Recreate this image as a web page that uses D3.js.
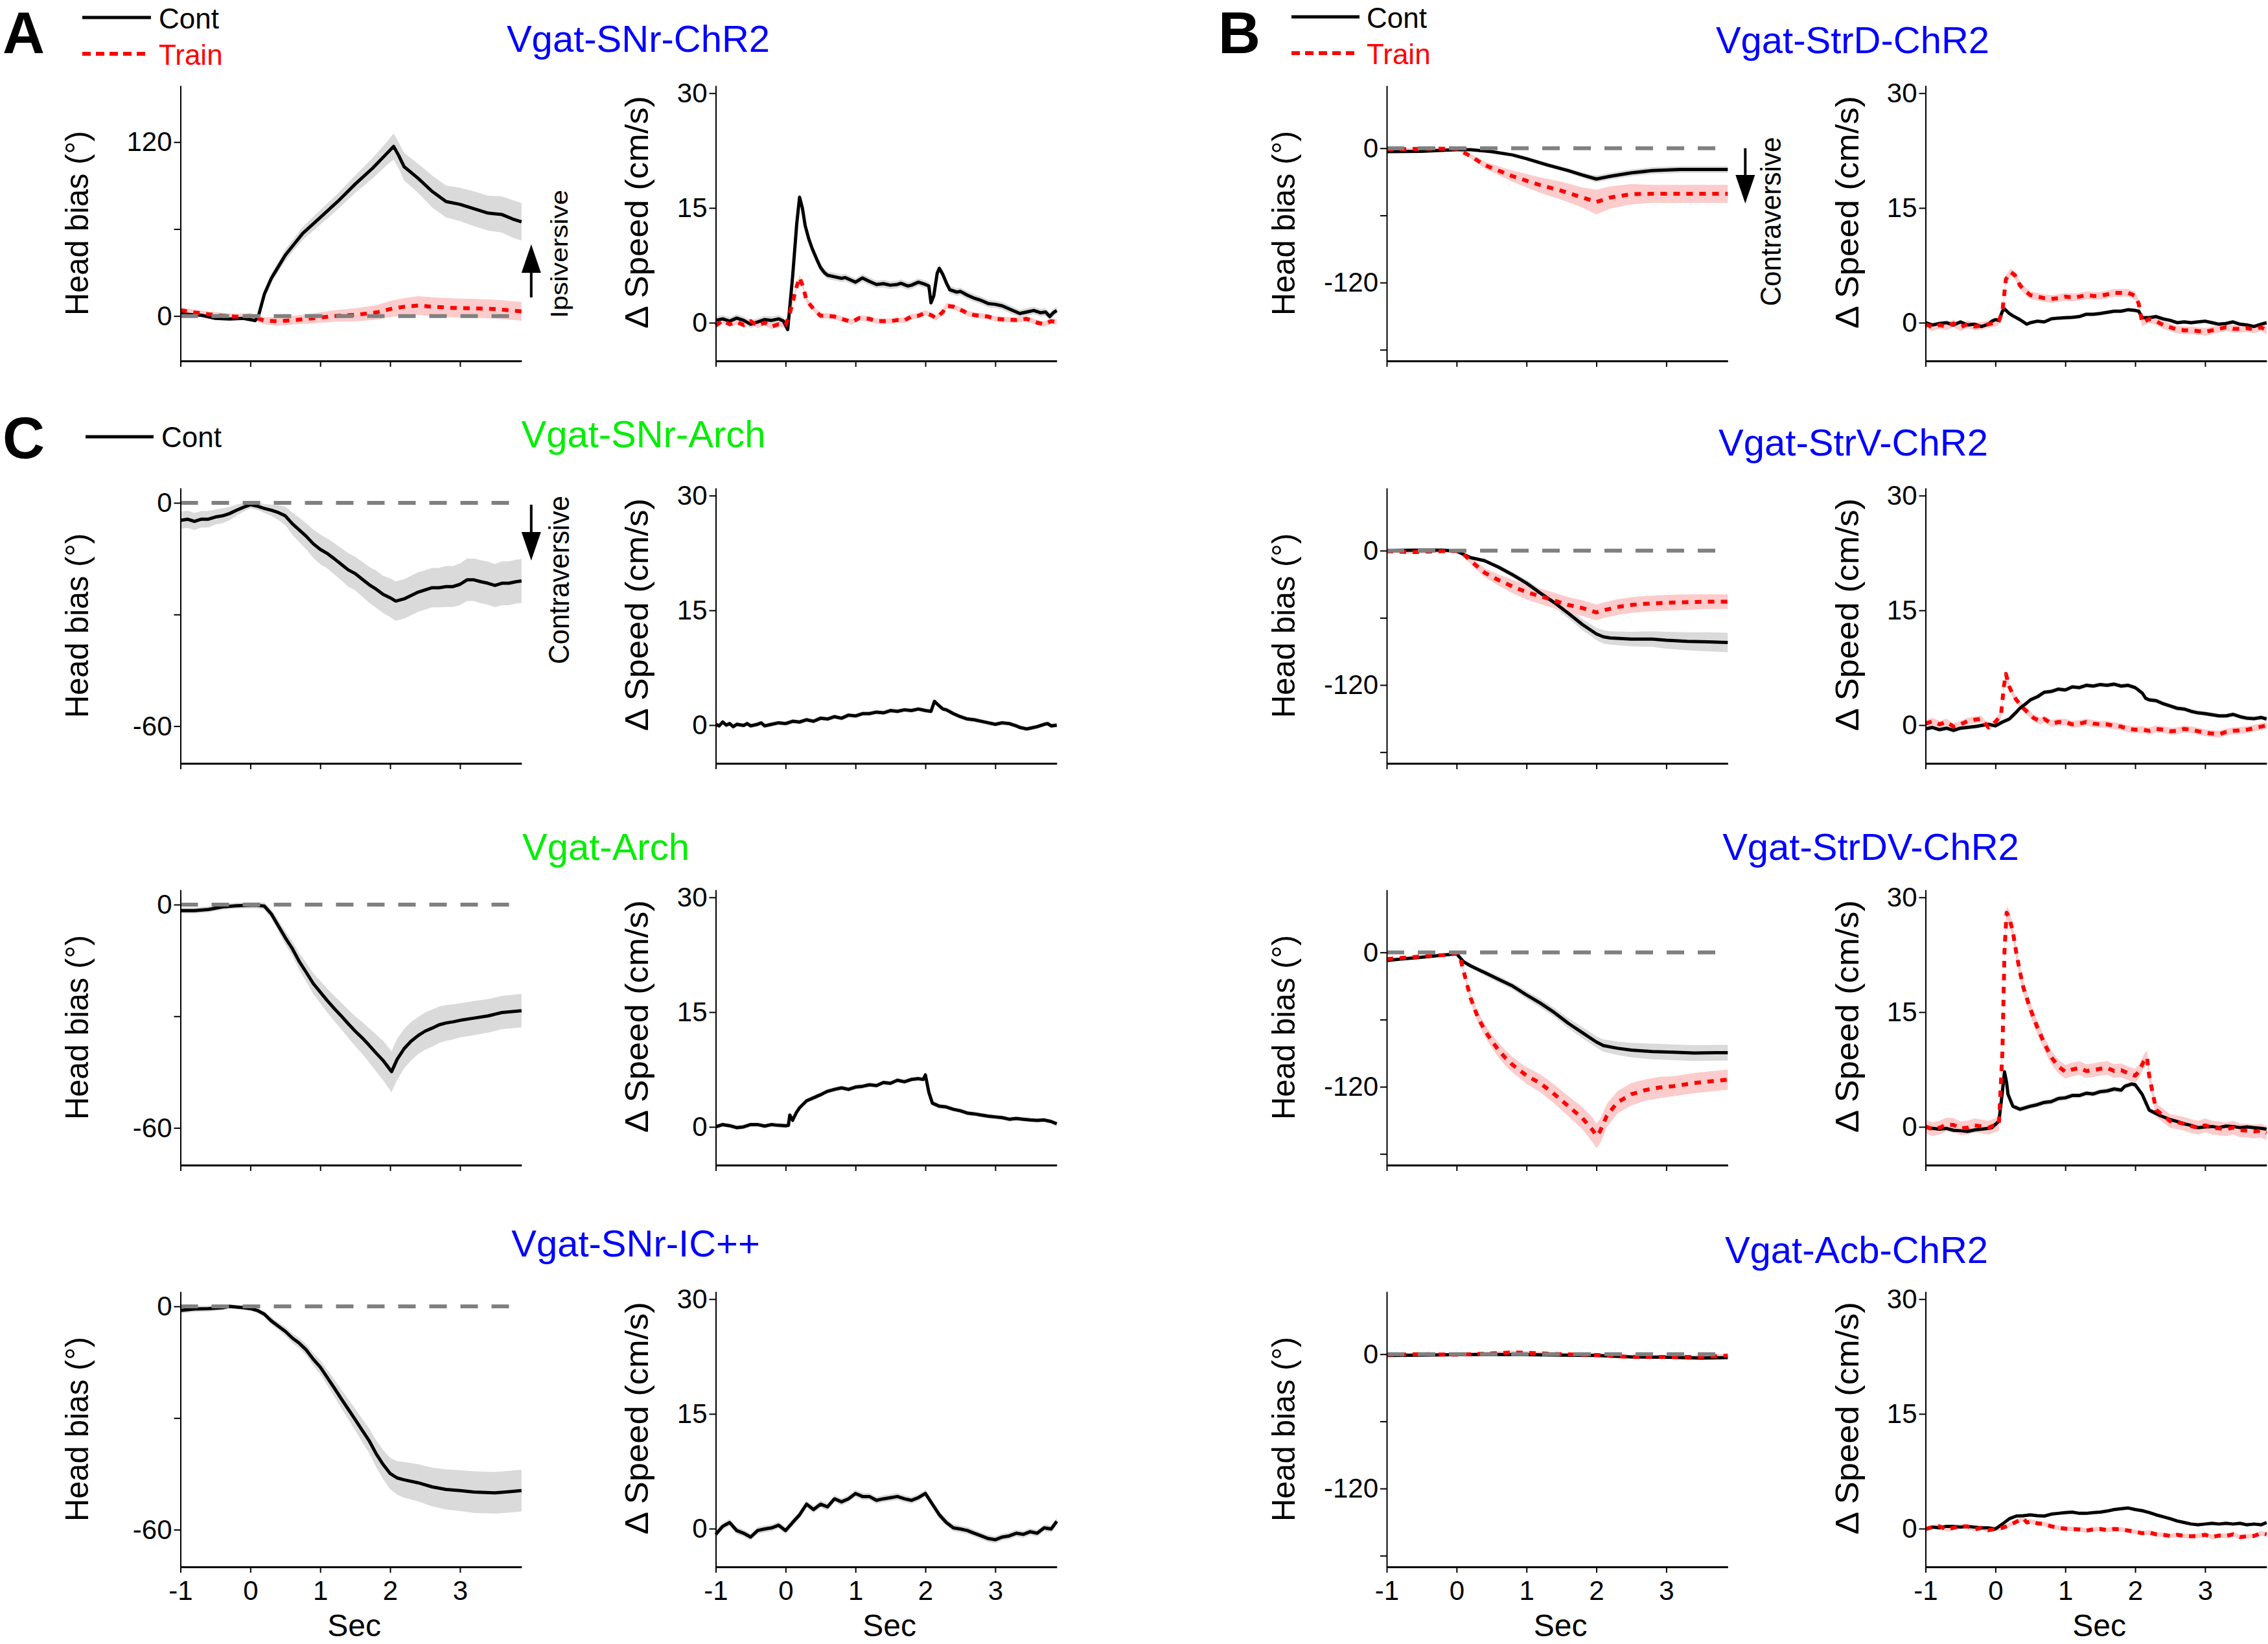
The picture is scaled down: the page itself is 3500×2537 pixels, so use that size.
<!DOCTYPE html>
<html><head><meta charset="utf-8">
<script src="https://cdn.jsdelivr.net/npm/d3@7"></script>
<style>
html,body{margin:0;padding:0;background:#fff}
svg{display:block}
text{font-family:"Liberation Sans",Arial,Helvetica,sans-serif}
</style></head>
<body><svg id="chart" width="3500" height="2537"></svg>
<script>
// ---------------- DATA (time s, mean, sem) ----------------
// Panel A: Vgat-SNr-ChR2
const snrChR2_head_cont = [[-1,1.6,1],[-0.85,1,1],[-0.7,0.5,1],[-0.5,-1.6,1.2],[-0.3,-2,1.2],[-0.1,-1.6,1.2],[0,-2.5,1.2],[0.07,-3.2,1.2],[0.12,0.8,1.5],[0.2,15,2.5],[0.3,26,3],[0.4,34,3.5],[0.5,42,4],[0.6,48,4],[0.75,57,4.5],[1,68,5],[1.25,79,5.5],[1.5,91,6],[1.75,102,7],[1.95,112,8],[2.05,117,9],[2.12,111,9],[2.2,103,9.5],[2.4,95,10],[2.6,86,11],[2.8,79,11],[3,77,11.5],[3.2,74,12],[3.4,71,12],[3.6,70,12.5],[3.75,67,13],[3.88,65,13]];
const snrChR2_head_train = [[-1,4,2],[-0.8,2.4,2],[-0.6,1.2,2],[-0.4,0.2,2],[-0.2,-0.5,2],[0,0,2],[0.2,-3.2,2.5],[0.4,-3.7,3],[0.6,-2.9,3],[0.9,-1.6,3.5],[1.2,0,4],[1.5,0.8,4.5],[1.8,2.4,5],[2,4.8,5.5],[2.2,6.4,6],[2.4,7.2,6.5],[2.6,6.4,6.5],[2.9,5.6,6.5],[3.2,5.3,6.5],[3.5,4.8,6.5],[3.88,3.2,6.5]];
const snrChR2_speed_cont = [[-1,0.3],[-0.9,0.5],[-0.8,0.2],[-0.7,0.6],[-0.6,0.3],[-0.5,-0.2],[-0.4,0.1],[-0.3,0.4],[-0.2,0.3],[-0.1,0.5],[-0.03,0.2],[0.03,-0.9],[0.1,6],[0.16,13],[0.2,16.4],[0.24,15],[0.28,12.7],[0.33,11],[0.38,9.7],[0.45,8.2],[0.5,7.2],[0.55,6.6],[0.6,6.2],[0.7,6],[0.8,5.8],[0.85,5.9],[0.95,5.5],[1,5.3],[1.1,5.85],[1.2,5.4],[1.3,5],[1.4,5.1],[1.5,4.9],[1.6,5],[1.65,5.15],[1.75,4.8],[1.8,4.9],[1.9,5.3],[2,5],[2.05,4.8],[2.08,2.6],[2.12,3.5],[2.17,6.5],[2.2,7.1],[2.25,6.3],[2.3,5.2],[2.35,4.3],[2.45,4.0],[2.5,4.1],[2.6,3.6],[2.7,3.2],[2.8,2.9],[2.9,2.5],[3.0,2.4],[3.1,2.2],[3.2,1.8],[3.35,1.2],[3.45,1.4],[3.55,1.6],[3.65,1.3],[3.72,1.4],[3.78,0.8],[3.83,1.3],[3.88,1.6]];
const snrChR2_speed_train = [[-1,-0.4],[-0.9,0.3],[-0.8,-0.2],[-0.7,0.1],[-0.6,-0.3],[-0.5,0.2],[-0.4,-0.4],[-0.3,0],[-0.2,-0.5],[-0.1,-0.2],[0,-0.3],[0.05,0.9],[0.1,2.6],[0.15,4.5],[0.2,5.9],[0.25,4.7],[0.3,2.9],[0.4,1.8],[0.5,0.9],[0.6,0.9],[0.7,0.8],[0.8,0.5],[0.95,0.1],[1.05,0.6],[1.2,0.5],[1.3,0.2],[1.4,0.2],[1.5,0.2],[1.6,0.35],[1.7,0.3],[1.8,0.8],[1.9,0.9],[2,1.3],[2.1,0.9],[2.15,0.6],[2.25,1.4],[2.3,2.2],[2.4,2.1],[2.45,1.9],[2.55,1.5],[2.6,1.2],[2.7,1.0],[2.8,0.9],[2.9,0.8],[3.0,0.5],[3.15,0.4],[3.3,0.35],[3.45,0.5],[3.6,0],[3.7,-0.2],[3.8,0.2],[3.88,0.1]];

// Panel B row 1: Vgat-StrD-ChR2
const strD_head_cont = [[-1,-3,0.8],[-0.5,-2.7,0.8],[0,-1.3,0.8],[0.2,-1.3,0.8],[0.5,-3,1],[0.8,-6,1.2],[1,-9.3,1.5],[1.3,-15,2],[1.6,-20,2],[1.8,-24,2.5],[2,-27.5,3],[2.2,-25,3],[2.5,-22,3],[2.8,-20,3],[3.2,-19,3],[3.5,-19,3],[3.88,-19,3]];
const strD_head_train = [[-1,-1,1],[-0.5,-0.5,1],[0,-0.5,1],[0.2,-7,2],[0.4,-15,3],[0.6,-20,4],[0.8,-25,5],[1,-29,6],[1.2,-33,7],[1.5,-38,8],[1.8,-44,9],[2,-48,11],[2.2,-44,10],[2.5,-41,9],[2.8,-40.7,8],[3.2,-40.7,8],[3.88,-40.7,8]];
const strD_speed_cont = [[-1,0],[-0.9,-0.3],[-0.8,-0.1],[-0.7,0],[-0.6,-0.3],[-0.5,0.1],[-0.4,-0.3],[-0.3,-0.2],[-0.2,-0.5],[-0.1,-0.2],[-0.05,0.2],[0,0.4],[0.05,0.3],[0.1,1.5],[0.13,1.8],[0.2,1.2],[0.25,0.9],[0.35,0.4],[0.45,-0.2],[0.5,0],[0.6,0.2],[0.7,0.1],[0.8,0.5],[0.9,0.6],[1.0,0.65],[1.1,0.7],[1.2,0.8],[1.3,1.1],[1.4,1.1],[1.5,1.2],[1.6,1.35],[1.7,1.5],[1.8,1.5],[1.9,1.7],[2.0,1.6],[2.05,1.5],[2.1,0.65],[2.2,0.65],[2.3,0.8],[2.4,0.5],[2.5,0.3],[2.6,0],[2.7,0.1],[2.8,0],[2.9,0.1],[3.0,0.2],[3.1,0],[3.2,-0.2],[3.3,-0.1],[3.4,0.1],[3.5,-0.2],[3.6,-0.3],[3.7,-0.5],[3.8,-0.2],[3.88,0]];
const strD_speed_train = [[-1,-0.2],[-0.9,-0.6],[-0.8,-0.3],[-0.7,-0.5],[-0.6,-0.1],[-0.5,-0.6],[-0.4,-0.2],[-0.3,-0.5],[-0.2,-0.4],[-0.1,-0.2],[0,0],[0.05,0.2],[0.1,1.5],[0.15,5.7],[0.22,6.6],[0.28,6.2],[0.35,4.9],[0.42,4.2],[0.5,3.6],[0.6,3.4],[0.7,3.2],[0.8,3.1],[0.9,3.2],[1.0,3.4],[1.1,3.3],[1.2,3.4],[1.3,3.6],[1.4,3.5],[1.5,3.5],[1.6,3.7],[1.7,3.9],[1.8,3.9],[1.9,3.9],[2.0,3.5],[2.05,2.5],[2.1,0],[2.2,0.5],[2.3,0.2],[2.4,-0.3],[2.5,-0.6],[2.6,-0.9],[2.7,-1.0],[2.8,-1.0],[2.9,-1.1],[3.0,-1.2],[3.1,-1.0],[3.2,-0.8],[3.3,-0.6],[3.4,-0.8],[3.5,-0.8],[3.6,-0.7],[3.7,-0.9],[3.8,-0.6],[3.88,-1.0]];

// Panel C row 2: Vgat-SNr-Arch
const snrArch_head_cont = [[-1,-4.7,2.3],[-0.9,-4.4,2.3],[-0.8,-5,2.3],[-0.7,-4.4,2.2],[-0.6,-4.4,2.2],[-0.5,-3.8,2],[-0.4,-3.5,2],[-0.3,-2.9,1.8],[-0.2,-2,1.5],[-0.1,-1.2,1.2],[0,-0.5,1],[0.1,-0.9,1],[0.2,-1.5,1.2],[0.3,-2,1.5],[0.4,-2.6,2],[0.5,-3.5,2.5],[0.6,-5.6,3],[0.7,-7.3,3.3],[0.8,-9,3.5],[0.9,-11,3.8],[1,-12.5,4],[1.1,-13.6,4],[1.2,-15,4.2],[1.3,-16.5,4.3],[1.4,-18,4.5],[1.5,-19,4.5],[1.6,-20.5,4.7],[1.7,-22,4.8],[1.8,-23.2,5],[1.9,-24.6,5],[2,-25.5,5.2],[2.08,-26.4,5.3],[2.2,-25.8,5.3],[2.3,-24.9,5.3],[2.4,-24,5.3],[2.5,-23.4,5.3],[2.6,-22.8,5.3],[2.7,-22.8,5.3],[2.8,-22.5,5.5],[2.9,-22.5,5.5],[3,-21.9,5.6],[3.1,-20.7,5.7],[3.2,-20.7,5.7],[3.3,-21.2,5.8],[3.4,-21.6,5.8],[3.5,-22.2,5.8],[3.6,-21.6,5.9],[3.7,-21.6,5.9],[3.8,-21.2,5.9],[3.88,-21,5.9]];
const snrArch_speed_cont = [[-1,0.1],[-0.95,-0.1],[-0.9,0.4],[-0.85,0],[-0.8,0.2],[-0.75,-0.2],[-0.7,0.1],[-0.6,-0.05],[-0.55,0.2],[-0.5,-0.1],[-0.4,0.1],[-0.35,0.3],[-0.3,-0.1],[-0.2,0.1],[-0.1,0.3],[0,0.2],[0.1,0.5],[0.2,0.4],[0.3,0.7],[0.4,0.5],[0.5,0.9],[0.6,0.8],[0.7,1.1],[0.8,0.9],[0.9,1.3],[1.0,1.2],[1.1,1.5],[1.2,1.5],[1.3,1.7],[1.4,1.6],[1.5,1.9],[1.6,1.8],[1.7,2.0],[1.8,1.9],[1.9,2.1],[2.0,1.9],[2.08,1.8],[2.13,3.1],[2.2,2.5],[2.25,2.1],[2.3,2.0],[2.4,1.5],[2.5,1.1],[2.6,0.8],[2.7,0.7],[2.8,0.5],[2.9,0.3],[3.0,0.1],[3.1,0.3],[3.2,0.2],[3.3,-0.1],[3.35,-0.3],[3.45,-0.5],[3.5,-0.4],[3.6,-0.2],[3.7,0.1],[3.75,0.2],[3.8,-0.1],[3.88,0]];

// Panel B row 2: Vgat-StrV-ChR2
const strV_head_cont = [[-1,0,1],[-0.8,0.3,1],[-0.6,0.5,1],[-0.4,0.5,1],[-0.2,0.4,1],[0,-0.4,1],[0.1,-3.3,1],[0.2,-6.2,1.2],[0.4,-9,1.5],[0.6,-14.8,2],[0.8,-21.5,2.5],[1,-29,3],[1.2,-38,3.5],[1.4,-46.5,4],[1.6,-56,4.5],[1.8,-66,5],[2,-74.4,5.5],[2.1,-77,6],[2.2,-78,6],[2.5,-79,6.5],[2.8,-79,7],[3,-80,7.5],[3.3,-81,8],[3.6,-81.5,8.5],[3.88,-82,8.7]];
const strV_head_train = [[-1,-0.4,1.5],[-0.8,-1,1.5],[-0.6,-1.3,1.5],[-0.4,-0.8,1.5],[-0.2,-0.4,1.5],[0,-0.4,1.5],[0.1,-3.3,2],[0.2,-9,3],[0.4,-19.6,4],[0.6,-26.3,5],[0.8,-32,6],[1,-37,6.5],[1.2,-40.8,7],[1.4,-44.6,7],[1.6,-48.5,7],[1.8,-51.3,7],[2,-55.2,7],[2.1,-53.3,7],[2.3,-50.4,7],[2.5,-48.5,7],[2.7,-47.5,7],[3,-46.5,7],[3.3,-46,7],[3.6,-45.6,6.5],[3.88,-45.6,6.5]];
const strV_speed_cont = [[-1,-0.5],[-0.9,-0.3],[-0.8,-0.6],[-0.7,-0.4],[-0.6,-0.7],[-0.5,-0.4],[-0.4,-0.3],[-0.3,-0.2],[-0.2,-0.05],[-0.1,0.1],[0,-0.1],[0.1,0.4],[0.2,0.8],[0.3,1.7],[0.35,2.2],[0.45,2.9],[0.5,3.3],[0.6,3.7],[0.7,4.3],[0.8,4.4],[0.9,4.7],[1.0,4.6],[1.1,5.0],[1.2,4.9],[1.3,5.2],[1.4,5.1],[1.5,5.3],[1.6,5.2],[1.7,5.35],[1.8,5.1],[1.9,5.2],[2.0,4.9],[2.1,4.2],[2.15,3.5],[2.2,3.3],[2.3,3.2],[2.4,2.8],[2.5,2.5],[2.6,2.2],[2.7,2.1],[2.8,1.8],[2.9,1.6],[3.0,1.5],[3.1,1.35],[3.2,1.2],[3.3,1.2],[3.4,1.4],[3.5,1.1],[3.6,0.9],[3.7,0.85],[3.8,1.0],[3.88,0.8]];
const strV_speed_train = [[-1,0.2],[-0.9,0.5],[-0.8,0.1],[-0.7,0.4],[-0.6,-0.2],[-0.5,0.1],[-0.4,0.5],[-0.3,0.7],[-0.2,0.8],[-0.1,-0.3],[0,0.4],[0.08,1.35],[0.12,5],[0.15,6.7],[0.2,5.0],[0.25,4.0],[0.3,3.3],[0.4,2.2],[0.5,1.35],[0.55,0.9],[0.65,0.5],[0.7,0.8],[0.8,0.2],[0.9,0.4],[1.0,0.4],[1.1,0.1],[1.2,0.2],[1.3,0.4],[1.4,0.2],[1.5,0.1],[1.6,0.1],[1.7,-0.1],[1.8,-0.2],[1.9,-0.5],[2.0,-0.6],[2.1,-0.6],[2.2,-0.75],[2.3,-0.5],[2.4,-0.6],[2.5,-0.8],[2.6,-0.75],[2.7,-0.5],[2.8,-0.6],[2.9,-0.8],[3.0,-1.0],[3.1,-1.1],[3.2,-1.2],[3.3,-0.9],[3.4,-0.75],[3.5,-0.7],[3.6,-0.6],[3.7,-0.4],[3.8,-0.2],[3.88,-0.05]];

// Panel C row 3: Vgat-Arch
const arch_head_cont = [[-1,-1.6,0.8],[-0.8,-1.6,0.8],[-0.6,-1.3,0.8],[-0.4,-0.6,0.8],[-0.2,-0.3,0.8],[0,-0.2,0.8],[0.1,-0.2,0.8],[0.2,-0.4,1],[0.3,-2.5,1.2],[0.4,-5.7,1.5],[0.5,-8.9,1.8],[0.6,-11.8,2],[0.7,-15.3,2.3],[0.8,-18.2,2.5],[0.9,-21.2,2.8],[1,-23.5,3],[1.1,-25.8,3.2],[1.2,-27.9,3.4],[1.3,-29.9,3.6],[1.4,-32,3.8],[1.5,-34,4],[1.6,-35.8,4.3],[1.7,-37.8,4.6],[1.8,-39.9,5],[1.9,-41.9,5.3],[2.02,-44.9,5.5],[2.1,-41.6,5.5],[2.2,-38.7,5.3],[2.3,-36.7,5.2],[2.4,-35.2,5],[2.5,-34,5],[2.6,-33.2,5],[2.7,-32.3,4.9],[2.8,-31.8,4.8],[2.9,-31.5,4.7],[3,-31.1,4.6],[3.2,-30.5,4.6],[3.4,-29.9,4.5],[3.6,-29,4.5],[3.88,-28.5,4.5]];
const arch_speed_cont = [[-1,0],[-0.9,0.3],[-0.8,0.15],[-0.7,-0.1],[-0.6,0],[-0.5,0.3],[-0.4,0.3],[-0.3,0.1],[-0.2,0.3],[-0.1,0.2],[0,0.15],[0.04,0.2],[0.06,1.55],[0.1,0.85],[0.15,1.8],[0.2,2.5],[0.3,3.4],[0.4,3.8],[0.5,4.2],[0.6,4.65],[0.7,4.9],[0.8,5.1],[0.9,4.9],[1.0,5.2],[1.1,5.3],[1.2,5.5],[1.3,5.4],[1.4,5.8],[1.5,5.7],[1.6,6.1],[1.7,5.9],[1.8,6.2],[1.9,6.3],[1.97,6.2],[2.0,6.8],[2.05,4.5],[2.1,3.1],[2.2,2.7],[2.3,2.6],[2.4,2.3],[2.5,2.1],[2.6,1.8],[2.7,1.7],[2.8,1.55],[2.9,1.4],[3.0,1.3],[3.1,1.2],[3.2,1.0],[3.3,1.1],[3.4,1.0],[3.5,0.9],[3.6,0.85],[3.7,0.9],[3.8,0.7],[3.88,0.4]];

// Panel B row 3: Vgat-StrDV-ChR2
const strDV_head_cont = [[-1,-7.2,1],[-0.8,-6,1],[-0.5,-4.3,1],[-0.2,-2.4,1],[0,-1.2,1],[0.1,-8.4,1.5],[0.2,-12,2],[0.4,-18,2.5],[0.6,-24,3],[0.8,-30,3],[1,-38,3.5],[1.2,-45.4,4],[1.4,-53.8,4],[1.6,-63.4,4.5],[1.8,-71.7,5],[2,-80,5],[2.1,-83.2,5.5],[2.3,-85.6,6],[2.5,-87.3,6.5],[2.8,-88.5,7],[3.1,-89.2,7],[3.4,-89.9,7],[3.7,-89.6,7],[3.88,-89.6,7]];
const strDV_head_train = [[-1,-6,1],[-0.5,-3.6,1],[-0.2,-2.4,1],[0,-1.2,1],[0.05,-4.8,1.5],[0.1,-16.7,2],[0.15,-28.7,3],[0.2,-40.6,4],[0.3,-57.4,5],[0.4,-69.3,5.5],[0.5,-78.9,6],[0.6,-87.3,6.5],[0.7,-94.4,7],[0.8,-100.4,7],[0.9,-105.2,7],[1,-110,7.5],[1.2,-117,8],[1.4,-126.7,8.5],[1.6,-137.5,9],[1.8,-148,10],[1.95,-159,11],[2,-163.8,11],[2.05,-160,11],[2.15,-145.8,10.5],[2.3,-134,10],[2.5,-126.7,10],[2.7,-123,9.5],[2.9,-120.7,9.5],[3.1,-119.5,9],[3.4,-116.7,9],[3.7,-114.8,9],[3.88,-113.6,9]];
const strDV_speed_cont = [[-1,-0.1],[-0.9,-0.2],[-0.8,-0.3],[-0.7,-0.2],[-0.6,-0.45],[-0.5,-0.5],[-0.4,-0.6],[-0.3,-0.4],[-0.2,-0.3],[-0.1,-0.2],[-0.05,-0.1],[0.05,0.75],[0.1,4.6],[0.13,7.2],[0.16,5.8],[0.18,4.25],[0.25,2.7],[0.35,2.3],[0.5,2.7],[0.6,2.9],[0.7,3.2],[0.8,3.3],[0.9,3.7],[1.0,3.8],[1.1,4.1],[1.2,4.1],[1.3,4.4],[1.4,4.3],[1.5,4.6],[1.6,4.7],[1.7,4.95],[1.8,4.8],[1.85,5.3],[1.95,5.6],[2.0,5.5],[2.1,4.25],[2.2,2.2],[2.35,1.5],[2.5,0.95],[2.6,0.7],[2.7,0.4],[2.8,0.2],[2.9,-0.1],[3.0,0],[3.1,0.05],[3.2,-0.1],[3.3,0.1],[3.4,0.05],[3.5,-0.1],[3.6,0],[3.7,-0.1],[3.8,-0.2],[3.88,-0.3]];
const strDV_speed_train = [[-1,0.05],[-0.9,-0.3],[-0.8,-0.1],[-0.7,0.3],[-0.6,0.25],[-0.5,-0.2],[-0.4,-0.1],[-0.3,0.2],[-0.2,0.05],[-0.1,-0.1],[0,0.25],[0.05,0.4],[0.1,9.8],[0.13,23],[0.16,28],[0.2,27.3],[0.25,25.5],[0.3,22.7],[0.35,20.3],[0.4,18.2],[0.5,15.4],[0.6,13],[0.7,10.9],[0.8,9.1],[0.9,7.9],[1.0,7.2],[1.1,7.5],[1.2,7.7],[1.3,7.3],[1.4,7.4],[1.5,7.6],[1.6,7.7],[1.7,7.3],[1.8,7.4],[1.9,7.0],[2.0,6.7],[2.05,7.2],[2.12,8.5],[2.17,9.1],[2.2,6.7],[2.3,2.2],[2.4,1.5],[2.5,0.75],[2.6,0.6],[2.7,0.4],[2.8,0.1],[2.9,-0.1],[3.0,0.2],[3.1,-0.1],[3.2,-0.2],[3.3,-0.3],[3.4,-0.1],[3.5,-0.45],[3.6,-0.5],[3.7,-0.6],[3.8,-0.5],[3.88,-0.8]];

// Panel C row 4: Vgat-SNr-IC++
const ic_head_cont = [[-1,-1.1,0.8],[-0.8,-0.7,0.8],[-0.6,-0.6,0.8],[-0.4,-0.35,0.7],[-0.3,0,0.6],[-0.1,-0.35,0.6],[0,-0.6,0.6],[0.1,-1.1,0.7],[0.2,-2.1,0.8],[0.3,-3.9,1],[0.4,-5.3,1],[0.5,-6.7,1.2],[0.6,-8.5,1.3],[0.7,-9.9,1.4],[0.8,-11.7,1.5],[0.9,-14.2,1.7],[1,-16.3,1.9],[1.1,-19.1,2.1],[1.2,-21.9,2.3],[1.3,-24.8,2.5],[1.4,-27.6,2.7],[1.5,-30.4,2.9],[1.6,-33.3,3.1],[1.7,-36.1,3.3],[1.8,-39.6,3.6],[1.9,-42.5,3.9],[2,-44.9,4.2],[2.1,-46.1,4.5],[2.2,-46.6,4.8],[2.4,-47.4,5],[2.6,-48.5,5.2],[2.8,-49.2,5.4],[3,-49.5,5.5],[3.2,-49.9,5.6],[3.5,-50.1,5.6],[3.7,-49.8,5.6],[3.88,-49.5,5.6]];
const ic_speed_cont = [[-1,-0.75],[-0.9,0.3],[-0.8,0.8],[-0.7,-0.25],[-0.6,-0.6],[-0.5,-1.1],[-0.4,-0.25],[-0.3,-0.05],[-0.2,0.1],[-0.1,0.45],[0,-0.25],[0.1,0.8],[0.2,1.8],[0.3,3.2],[0.4,2.5],[0.5,3.2],[0.6,2.85],[0.7,3.9],[0.8,3.5],[0.9,3.9],[1.0,4.6],[1.1,4.2],[1.2,4.2],[1.3,3.7],[1.4,3.9],[1.5,4.05],[1.6,4.2],[1.7,3.9],[1.8,3.7],[1.9,4.05],[2.0,4.6],[2.1,3.2],[2.2,1.8],[2.3,0.8],[2.4,0.1],[2.5,-0.05],[2.6,-0.25],[2.7,-0.6],[2.8,-0.95],[2.9,-1.3],[3.0,-1.45],[3.1,-1.1],[3.2,-0.95],[3.3,-0.6],[3.4,-0.75],[3.5,-0.4],[3.6,-0.6],[3.7,0.1],[3.8,-0.05],[3.88,0.95]];

// Panel B row 4: Vgat-Acb-ChR2
const acb_head_cont = [[-1,-1.2,1],[-0.5,-0.8,1],[0,-0.5,1],[0.5,-0.3,1],[1,-0.5,1],[1.5,-0.8,1],[2,-1.2,1],[2.5,-2.4,1.2],[3,-2.8,1.2],[3.5,-3.5,1.2],[3.88,-3,1.2]];
const acb_head_train = [[-1,-0.5,1.5],[-0.5,0,1.5],[0,-0.5,1.5],[0.5,0.7,1.5],[0.8,1.5,1.5],[1,1.2,1.5],[1.5,0,1.5],[2,-0.7,1.5],[2.3,-1.9,1.5],[2.6,-2.4,1.5],[3,-2.4,1.5],[3.5,-2.4,1.5],[3.88,-1.2,1.5]];
const acb_speed_cont = [[-1,-0.05],[-0.9,0.2],[-0.8,0.1],[-0.7,0.3],[-0.6,0.3],[-0.5,0.2],[-0.4,0.3],[-0.3,0.2],[-0.2,0.1],[-0.1,0.1],[0,-0.05],[0.1,0.6],[0.2,1.3],[0.3,1.65],[0.4,1.7],[0.5,1.8],[0.6,1.7],[0.7,1.65],[0.8,1.9],[0.9,2.0],[1.0,2.1],[1.1,2.15],[1.2,2.0],[1.3,2.0],[1.4,2.1],[1.5,2.15],[1.6,2.3],[1.7,2.5],[1.8,2.6],[1.9,2.7],[2.0,2.5],[2.1,2.35],[2.2,2.1],[2.3,1.8],[2.4,1.55],[2.5,1.3],[2.6,1.0],[2.7,0.8],[2.8,0.6],[2.9,0.5],[3.0,0.6],[3.1,0.7],[3.2,0.6],[3.3,0.7],[3.4,0.6],[3.5,0.7],[3.6,0.5],[3.7,0.6],[3.8,0.5],[3.88,0.8]];
const acb_speed_train = [[-1,-0.05],[-0.9,0.2],[-0.8,0.3],[-0.7,-0.1],[-0.6,0.1],[-0.5,0.3],[-0.4,0.3],[-0.3,-0.1],[-0.2,0.1],[-0.1,-0.2],[0,-0.05],[0.1,0.1],[0.2,0.45],[0.3,0.9],[0.4,1.3],[0.45,0.8],[0.5,0.95],[0.6,0.7],[0.7,0.6],[0.8,0.3],[0.9,0.1],[1.0,0],[1.1,-0.05],[1.2,-0.1],[1.3,-0.25],[1.4,-0.1],[1.5,-0.05],[1.6,-0.2],[1.7,-0.05],[1.8,-0.1],[1.9,-0.25],[2.0,-0.4],[2.1,-0.6],[2.2,-0.5],[2.3,-0.75],[2.4,-0.8],[2.5,-0.95],[2.6,-0.8],[2.7,-0.95],[2.8,-1.0],[2.9,-0.95],[3.0,-0.8],[3.1,-1.1],[3.2,-0.9],[3.3,-0.95],[3.4,-0.75],[3.5,-1.1],[3.6,-1.0],[3.7,-0.95],[3.8,-0.6],[3.88,-0.75]];

// SEM half-widths of speed traces (cm/s)
const speedSem = {snrC:0.5, snrT:0.35, strDC:0.25, strDT:0.5, snrArch:0.3, strVC:0.3, strVT:0.45, arch:0.3, strDVC:0.35, strDVT:0.9, ic:0.45, acbC:0.2, acbT:0.3};

// Axis ticks / labels
const X_DOMAIN = [-1, 3.88];
const X_TICKS = [-1, 0, 1, 2, 3];
const HEAD_TICKS_A = [0, 60, 120], HEAD_LABELS_A = [0, 120];
const HEAD_TICKS_C = [-60, -30, 0], HEAD_LABELS_C = [-60, 0];
const HEAD_TICKS_B = [-180, -120, -60, 0], HEAD_LABELS_B = [-120, 0];
const SPEED_TICKS = [0, 15, 30];
const HEAD_DOMAIN_A = [-31, 159], HEAD_DOMAIN_C = [-70, 4], HEAD_DOMAIN_B = [-190, 56];
const SPEED_DOMAIN = [-5, 31];

// ---------------- LAYOUT ----------------
const BLUE = "#0000ff", GREEN = "#00ee00";
const PLOT_W = 526.3, PLOT_H = 425;
const ROW_TOP = [132, 753, 1373, 1993];
const COLS = {
  left:  {head: 278.5, speed: 1104.5, headLab: 136, speedLab: 1000},
  right: {head: 2140,  speed: 2971.5, headLab: 1998, speedLab: 2868}
};

const panels = [
  {col:"left", row:0, title:"Vgat-SNr-ChR2", tcolor:BLUE, tx:985, ty:80,
   hd:HEAD_DOMAIN_A, ht:HEAD_TICKS_A, hl:HEAD_LABELS_A,
   head:[[snrChR2_head_cont,"c"],[snrChR2_head_train,"t"]],
   speed:[[snrChR2_speed_cont,"c",speedSem.snrC],[snrChR2_speed_train,"t",speedSem.snrT]],
   arrow:{text:"Ipsiversive", from:12.8, to:49.5, dx:15, tdx:71, fs:37, len:198, cy:260}},
  {col:"right", row:0, title:"Vgat-StrD-ChR2", tcolor:BLUE, tx:2859, ty:82,
   hd:HEAD_DOMAIN_B, ht:HEAD_TICKS_B, hl:HEAD_LABELS_B,
   head:[[strD_head_cont,"c"],[strD_head_train,"t"]],
   speed:[[strD_speed_cont,"c",speedSem.strDC],[strD_speed_train,"t",speedSem.strDT]],
   arrow:{text:"Contraversive", from:0, to:-49.3, dx:27, tdx:82, fs:44, len:261, cy:210}},
  {col:"left", row:1, title:"Vgat-SNr-Arch", tcolor:GREEN, tx:993, ty:690,
   hd:HEAD_DOMAIN_C, ht:HEAD_TICKS_C, hl:HEAD_LABELS_C,
   head:[[snrArch_head_cont,"c"]],
   speed:[[snrArch_speed_cont,"c",speedSem.snrArch]],
   arrow:{text:"Contraversive", from:-0.5, to:-15.5, dx:15, tdx:73, fs:44, len:260, cy:142}},
  {col:"right", row:1, title:"Vgat-StrV-ChR2", tcolor:BLUE, tx:2860, ty:703,
   hd:HEAD_DOMAIN_B, ht:HEAD_TICKS_B, hl:HEAD_LABELS_B,
   head:[[strV_head_cont,"c"],[strV_head_train,"t"]],
   speed:[[strV_speed_cont,"c",speedSem.strVC],[strV_speed_train,"t",speedSem.strVT]]},
  {col:"left", row:2, title:"Vgat-Arch", tcolor:GREEN, tx:935, ty:1327,
   hd:HEAD_DOMAIN_C, ht:HEAD_TICKS_C, hl:HEAD_LABELS_C,
   head:[[arch_head_cont,"c"]],
   speed:[[arch_speed_cont,"c",speedSem.arch]]},
  {col:"right", row:2, title:"Vgat-StrDV-ChR2", tcolor:BLUE, tx:2887, ty:1327,
   hd:HEAD_DOMAIN_B, ht:HEAD_TICKS_B, hl:HEAD_LABELS_B,
   head:[[strDV_head_cont,"c"],[strDV_head_train,"t"]],
   speed:[[strDV_speed_cont,"c",speedSem.strDVC],[strDV_speed_train,"t",speedSem.strDVT]]},
  {col:"left", row:3, title:"Vgat-SNr-IC++", tcolor:BLUE, tx:981, ty:1939,
   hd:HEAD_DOMAIN_C, ht:HEAD_TICKS_C, hl:HEAD_LABELS_C,
   head:[[ic_head_cont,"c"]],
   speed:[[ic_speed_cont,"c",speedSem.ic]]},
  {col:"right", row:3, title:"Vgat-Acb-ChR2", tcolor:BLUE, tx:2865, ty:1949,
   hd:HEAD_DOMAIN_B, ht:HEAD_TICKS_B, hl:HEAD_LABELS_B,
   head:[[acb_head_cont,"c"],[acb_head_train,"t"]],
   speed:[[acb_speed_cont,"c",speedSem.acbC],[acb_speed_train,"t",speedSem.acbT]]}
];

// ---------------- DRAW ----------------
const svg = d3.select("#chart");
svg.append("rect").attr("width",3500).attr("height",2537).attr("fill","#fff");

const STYLE = {
  c: {stroke:"#000", width:5, dash:null, band:"#dadada"},
  t: {stroke:"#ff0000", width:6, dash:"10,10", band:"#fccccc"}
};

function styleAxis(g, domainW) {
  g.select(".domain").attr("stroke","#000").attr("stroke-width",domainW);
  g.selectAll(".tick line").attr("stroke","#000").attr("stroke-width",2);
  g.selectAll(".tick text").attr("font-size",42).attr("fill","#000")
    .attr("font-family",'"Liberation Sans",Arial,sans-serif');
}

function drawPlot(x0, y0, yDomain, yTicks, yLabels, seriesList, isHead, showX) {
  const g = svg.append("g");
  const x = d3.scaleLinear().domain(X_DOMAIN).range([x0, x0 + PLOT_W]);
  const y = d3.scaleLinear().domain(yDomain).range([y0 + PLOT_H, y0]);

  seriesList.forEach(([data, kind, sem]) => {
    const area = d3.area()
      .x(d => x(d[0]))
      .y0(d => y(d[1] - (isHead ? d[2] : sem)))
      .y1(d => y(d[1] + (isHead ? d[2] : sem)));
    g.append("path").datum(data).attr("d", area).attr("fill", STYLE[kind].band).attr("stroke","none");
  });
  seriesList.forEach(([data, kind]) => {
    const line = d3.line().x(d => x(d[0])).y(d => y(d[1]));
    const p = g.append("path").datum(data).attr("d", line).attr("fill","none")
      .attr("stroke", STYLE[kind].stroke).attr("stroke-width", STYLE[kind].width)
      .attr("stroke-linejoin","round");
    if (STYLE[kind].dash) p.attr("stroke-dasharray", STYLE[kind].dash);
  });
  if (isHead) {
    g.append("line").attr("x1", x(X_DOMAIN[0])).attr("x2", x(X_DOMAIN[1]))
      .attr("y1", y(0)).attr("y2", y(0))
      .attr("stroke","#808080").attr("stroke-width",6).attr("stroke-dasharray","27,21");
  }
  const ya = g.append("g").attr("transform", `translate(${x0},0)`)
    .call(d3.axisLeft(y).tickValues(yTicks).tickSize(10).tickSizeOuter(0).tickPadding(3)
      .tickFormat(d => yLabels.includes(d) ? String(d) : ""));
  styleAxis(ya, 2);
  const xa = g.append("g").attr("transform", `translate(0,${y0 + PLOT_H})`)
    .call(d3.axisBottom(x).tickValues(X_TICKS).tickSize(9).tickSizeOuter(0).tickPadding(12)
      .tickFormat(d => showX ? String(d) : ""));
  styleAxis(xa, 3);
  if (showX) {
    g.append("text").attr("x", x0 + PLOT_W/2 + 5).attr("y", 2525)
      .attr("text-anchor","middle").attr("font-size",48).text("Sec");
  }
  return {x, y};
}

function rotLabel(x, y, text, fs, len, color) {
  svg.append("text").attr("transform", `translate(${x},${y}) rotate(-90)`)
    .attr("text-anchor","middle").attr("font-size", fs).attr("fill", color || "#000")
    .attr("textLength", len).attr("lengthAdjust","spacingAndGlyphs").text(text);
}

panels.forEach(p => {
  const C = COLS[p.col];
  const top = ROW_TOP[p.row];
  const showX = p.row === 3;
  const hs = drawPlot(C.head, top, p.hd, p.ht, p.hl, p.head, true, showX);
  drawPlot(C.speed, top, SPEED_DOMAIN, SPEED_TICKS, SPEED_TICKS, p.speed, false, showX);

  rotLabel(C.headLab, top + PLOT_H/2, "Head bias (\u00B0)", 50, 285);
  rotLabel(C.speedLab, top + PLOT_H/2 - 17, "\u0394 Speed (cm/s)", 50, 359);

  svg.append("text").attr("x", p.tx).attr("y", p.ty).attr("text-anchor","middle")
    .attr("font-size",58).attr("fill", p.tcolor).text(p.title);

  if (p.arrow) {
    const a = p.arrow;
    const ax = C.head + PLOT_W + a.dx;
    const yFrom = hs.y(a.from), yTo = hs.y(a.to);
    const dir = yTo < yFrom ? -1 : 1;
    const headLen = 44, headHalf = 15;
    const yBase = yTo - dir * headLen;
    svg.append("line").attr("x1", ax).attr("x2", ax).attr("y1", yFrom).attr("y2", yBase)
      .attr("stroke","#000").attr("stroke-width",4);
    svg.append("path").attr("d", `M${ax},${yTo} L${ax-headHalf},${yBase} L${ax+headHalf},${yBase} Z`)
      .attr("fill","#000");
    rotLabel(C.head + PLOT_W + a.tdx, top + a.cy, a.text, a.fs, a.len);
  }
});

// Panel letters & legends
function letter(x, y, t) {
  svg.append("text").attr("x", x).attr("y", y).attr("font-size",90).attr("font-weight","bold").text(t);
}
function legendLine(x1, x2, y, kind) {
  const l = svg.append("line").attr("x1",x1).attr("x2",x2).attr("y1",y).attr("y2",y)
    .attr("stroke", STYLE[kind].stroke).attr("stroke-width", kind === "c" ? 5 : 6);
  if (kind === "t") l.attr("stroke-dasharray","13,8");
}
function legendText(x, y, t, color) {
  svg.append("text").attr("x",x).attr("y",y).attr("font-size",44).attr("fill",color).text(t);
}
letter(4, 82, "A");
legendLine(127, 233, 27, "c"); legendText(245, 43.5, "Cont", "#000");
legendLine(127, 225, 83, "t"); legendText(245, 100, "Train", "#ff0000");
letter(1880, 82, "B");
legendLine(1993, 2098, 26, "c"); legendText(2109, 43, "Cont", "#000");
legendLine(1993, 2098, 82, "t"); legendText(2109, 99, "Train", "#ff0000");
letter(4, 707, "C");
legendLine(132, 237, 674, "c"); legendText(249, 690, "Cont", "#000");
</script>
</body></html>
